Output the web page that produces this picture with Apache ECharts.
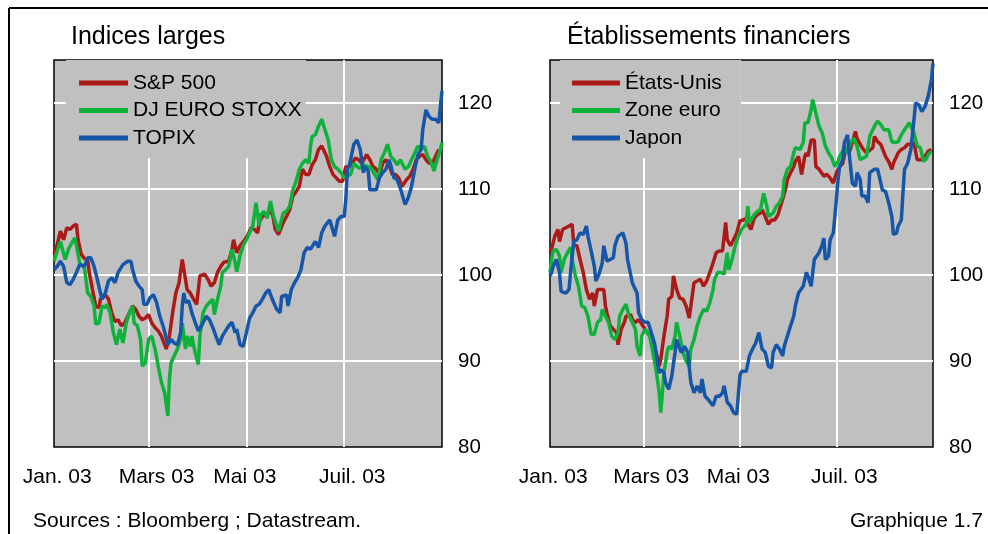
<!DOCTYPE html>
<html>
<head>
<meta charset="utf-8">
<script src="https://cdn.jsdelivr.net/npm/echarts@6/dist/echarts.min.js"></script>
<style>
  html, body { margin: 0; padding: 0; background: #fff; }
  #main { width: 988px; height: 534px; }
</style>
</head>
<body>
<div id="main"></div>
<script>
// x : jours depuis le 1er janvier 2003 ; y : indice base 100
var LAST_DAY = 242;

var monthStarts = [59, 120, 181];          // 1er mars, 1er mai, 1er juil. (lignes verticales)
var monthLabelDays = [2, 64, 119, 186];    // position des libellés
var monthLabels = ["Jan. 03", "Mars 03", "Mai 03", "Juil. 03"];
var yTicks = [80, 90, 100, 110, 120];

// Indices larges
var sp500 = [[0,102.4],[2,103.5],[4,105.1],[6,104.1],[8,105.5],[10,105.3],[12,105.7],[14,105.9],[15,104.1],[17,102.4],[19,101.9],[21,101.8],[22,100.3],[24,98.3],[26,96.4],[28,96.2],[29,97.2],[32,97.7],[34,97.2],[36,95.6],[38,94.6],[40,94.8],[42,94.1],[44,94.4],[47,95.6],[49,96.4],[51,96.0],[53,95.2],[55,94.8],[57,95.0],[59,95.4],[61,94.4],[63,93.9],[65,93.5],[67,92.9],[70,91.4],[71,91.2],[72,92.9],[74,95.6],[76,97.9],[78,99.1],[80,101.8],[82,99.5],[83,98.3],[85,97.9],[87,97.2],[89,96.6],[91,99.9],[94,100.1],[96,99.5],[98,98.7],[100,99.1],[102,100.3],[104,101.0],[106,101.5],[109,101.6],[111,103.0],[112,104.1],[114,102.6],[116,103.4],[119,104.1],[121,104.7],[123,105.5],[125,105.3],[127,104.9],[128,106.1],[130,106.8],[132,107.0],[134,107.2],[136,107.4],[138,105.3],[140,104.7],[143,106.1],[145,106.8],[147,107.6],[149,109.2],[151,109.7],[153,110.3],[155,112.3],[157,111.7],[159,111.7],[161,112.8],[163,113.4],[165,114.6],[167,115.0],[170,113.8],[172,112.6],[174,111.7],[176,111.3],[178,110.9],[180,110.9],[182,112.6],[184,112.6],[186,113.0],[188,113.6],[190,113.4],[192,113.0],[195,114.0],[197,113.4],[199,112.6],[201,112.3],[203,111.7],[205,113.0],[207,113.4],[209,112.8],[211,111.7],[213,111.7],[215,111.3],[217,110.3],[220,111.1],[222,111.5],[224,112.3],[226,113.4],[228,113.8],[230,114.0],[232,113.4],[234,113.0],[236,113.0],[238,113.8],[240,114.6]];

var euroStoxx = [[0,101.6],[2,102.8],[4,103.9],[5,104.1],[7,101.8],[9,103.0],[11,103.7],[13,104.3],[14,103.4],[16,101.4],[19,100.8],[21,97.9],[23,97.5],[25,96.4],[26,94.3],[28,94.4],[30,96.4],[32,96.2],[33,96.6],[35,95.6],[37,93.3],[39,91.9],[41,93.7],[43,92.1],[45,94.4],[47,95.6],[49,96.4],[50,94.4],[52,94.1],[54,92.5],[55,89.4],[57,89.8],[59,92.5],[61,92.9],[63,91.4],[65,89.4],[67,87.5],[69,86.3],[71,83.6],[72,87.9],[73,89.8],[75,90.6],[77,91.4],[79,92.5],[80,94.4],[82,91.4],[83,92.9],[85,91.7],[86,92.9],[88,91.0],[90,89.6],[91,92.9],[93,95.6],[95,96.4],[97,96.8],[99,97.2],[100,95.4],[102,97.2],[104,98.7],[105,100.3],[107,100.6],[109,101.0],[111,103.0],[113,101.4],[114,100.4],[116,102.2],[118,103.4],[120,104.1],[122,104.9],[124,105.7],[126,108.4],[128,105.7],[129,107.0],[131,107.4],[133,106.6],[135,108.6],[137,106.8],[139,105.7],[140,105.1],[143,107.2],[145,107.4],[147,108.0],[149,109.9],[151,110.9],[153,112.3],[155,113.0],[157,113.4],[159,113.0],[160,115.0],[161,116.1],[163,116.3],[165,117.3],[167,118.1],[169,116.9],[171,115.7],[173,113.4],[175,112.6],[177,112.3],[179,111.9],[181,111.3],[183,111.5],[185,111.7],[187,113.0],[189,112.6],[191,112.4],[193,112.8],[196,112.6],[198,112.4],[200,111.7],[202,111.1],[204,113.4],[206,114.2],[208,115.2],[210,113.8],[212,113.4],[214,112.8],[216,113.4],[219,112.3],[221,112.6],[223,113.4],[225,114.2],[227,115.0],[229,114.6],[231,115.0],[233,113.8],[235,113.2],[237,112.1],[239,113.4],[241,114.6],[242,115.4]];

var topix = [[0,100.6],[2,101.0],[4,101.6],[6,101.0],[8,99.1],[10,98.9],[12,99.5],[14,100.3],[16,101.2],[19,101.0],[21,102.0],[23,102.0],[25,101.0],[27,99.5],[29,97.9],[30,97.2],[32,97.9],[34,99.3],[36,99.7],[38,99.1],[40,100.3],[43,101.2],[46,101.6],[48,101.6],[49,100.6],[51,99.3],[53,98.7],[55,98.3],[56,96.6],[58,96.6],[60,97.4],[62,97.7],[64,96.8],[66,95.2],[68,94.1],[70,92.7],[71,91.9],[73,92.5],[75,92.1],[77,91.9],[79,93.3],[80,96.4],[81,97.9],[82,96.8],[84,97.0],[86,95.6],[88,94.5],[90,93.5],[92,94.1],[95,95.2],[97,94.8],[99,93.9],[101,92.9],[103,91.9],[105,92.9],[107,93.5],[109,94.1],[111,94.5],[113,93.3],[114,93.7],[116,91.9],[118,91.7],[120,93.3],[122,95.0],[124,95.6],[126,96.4],[128,96.6],[130,97.2],[132,97.9],[134,98.3],[135,97.7],[137,96.8],[139,96.0],[141,95.6],[142,97.5],[145,97.7],[146,96.4],[148,98.3],[150,99.1],[152,99.7],[154,100.6],[156,102.6],[158,103.2],[160,103.0],[163,103.9],[165,103.2],[167,104.9],[169,105.7],[172,106.4],[173,106.6],[175,104.5],[177,106.4],[179,106.8],[181,106.8],[182,108.8],[183,112.3],[184,112.6],[185,113.4],[187,115.2],[189,115.7],[191,114.6],[193,111.9],[194,112.6],[196,112.1],[197,109.9],[199,109.9],[201,109.9],[203,111.3],[205,111.9],[207,112.3],[209,113.4],[210,112.8],[212,111.3],[214,111.1],[216,110.1],[218,108.8],[219,108.2],[221,109.0],[223,110.3],[225,112.3],[227,114.0],[229,114.6],[230,116.9],[232,119.2],[234,118.4],[236,118.1],[238,118.1],[240,117.7],[241,119.6],[242,121.4]];

// Etablissements financiers
var etatsUnis = [[0,102.6],[1,103.0],[3,104.5],[5,105.3],[6,103.9],[8,105.3],[10,105.5],[12,105.7],[14,105.9],[15,103.5],[17,103.4],[19,101.8],[21,100.3],[22,100.3],[23,98.3],[25,97.2],[27,97.9],[28,96.4],[30,98.3],[32,98.3],[34,98.3],[35,96.4],[36,95.6],[38,94.1],[40,93.7],[42,93.3],[43,91.9],[45,93.7],[47,94.5],[48,95.2],[51,95.4],[52,94.8],[54,94.5],[56,94.8],[58,94.3],[60,93.7],[63,92.9],[65,92.1],[67,91.0],[69,89.4],[70,90.2],[72,92.9],[74,95.2],[75,97.2],[77,97.5],[78,99.9],[80,98.3],[82,97.3],[84,97.2],[86,96.4],[88,95.0],[89,96.4],[91,99.1],[93,99.3],[95,99.5],[97,98.7],[99,99.3],[101,100.3],[103,101.4],[105,102.6],[107,102.8],[109,102.8],[111,106.1],[112,104.1],[114,103.4],[116,104.1],[118,104.9],[120,106.3],[122,106.4],[124,106.6],[125,105.9],[127,105.3],[129,106.6],[131,107.0],[133,107.2],[134,107.6],[136,106.8],[138,105.9],[140,106.4],[142,106.4],[144,107.0],[145,107.6],[147,108.8],[149,110.1],[150,111.1],[152,111.9],[154,112.6],[155,113.2],[157,113.8],[159,111.7],[161,113.8],[162,114.2],[163,113.8],[165,115.7],[167,115.7],[168,112.6],[170,112.3],[173,111.5],[175,111.7],[177,111.3],[179,110.7],[181,111.9],[183,112.6],[185,113.0],[187,114.8],[189,114.2],[191,115.4],[193,116.7],[194,115.9],[196,115.2],[198,114.6],[200,114.2],[201,114.2],[204,114.8],[205,116.1],[207,115.5],[209,115.2],[212,113.8],[214,113.2],[216,112.3],[217,113.0],[219,113.8],[220,114.2],[222,114.6],[224,114.8],[226,115.2],[228,115.2],[230,115.4],[232,113.4],[234,113.4],[236,113.4],[237,113.8],[239,114.4],[241,114.6]];

var zoneEuro = [[0,100.3],[1,101.8],[2,102.8],[4,103.0],[6,102.2],[7,100.3],[9,101.8],[11,102.6],[13,103.2],[14,101.8],[16,99.9],[18,98.7],[20,96.4],[22,96.2],[24,95.2],[26,93.1],[28,93.1],[30,94.5],[32,94.8],[33,96.0],[35,95.2],[37,94.5],[39,92.9],[41,92.5],[43,93.3],[44,95.2],[46,96.0],[48,96.6],[50,95.2],[52,94.5],[54,93.7],[55,91.7],[57,90.6],[58,92.9],[60,93.7],[63,92.9],[65,91.0],[67,89.0],[69,86.3],[70,84.0],[72,88.6],[74,91.0],[75,91.7],[77,91.4],[79,92.9],[80,94.5],[82,92.9],[84,91.0],[86,90.0],[88,89.4],[89,91.4],[91,92.5],[93,94.1],[95,95.2],[97,96.0],[99,95.8],[101,96.8],[103,98.3],[104,99.5],[106,100.3],[108,100.3],[110,100.1],[112,102.6],[113,100.6],[115,101.8],[117,103.4],[119,104.5],[121,105.3],[124,105.9],[125,108.0],[126,106.1],[129,107.0],[131,107.4],[133,107.6],[135,109.5],[137,108.0],[138,106.8],[141,107.2],[143,108.0],[145,108.4],[147,109.2],[148,111.1],[150,112.3],[152,112.6],[154,114.2],[155,114.8],[158,114.6],[160,115.4],[161,117.7],[162,117.9],[163,117.7],[165,119.2],[166,120.4],[168,118.8],[170,117.3],[172,116.5],[174,115.0],[176,114.2],[178,113.6],[180,112.6],[182,113.2],[183,113.8],[185,114.4],[186,115.0],[188,114.2],[190,115.4],[192,115.9],[194,115.0],[196,113.4],[198,113.6],[200,113.8],[202,116.1],[205,117.3],[207,117.9],[209,117.5],[211,116.9],[212,116.7],[214,116.9],[216,115.5],[218,115.4],[220,115.5],[222,116.3],[224,116.9],[227,117.7],[228,117.7],[230,116.5],[232,115.0],[234,114.8],[236,113.2],[238,113.6],[239,114.0],[241,114.4]];

var japon = [[0,99.9],[1,100.3],[2,101.0],[4,101.8],[6,100.3],[7,98.1],[10,97.9],[12,98.3],[13,100.3],[15,103.9],[17,104.1],[19,104.9],[21,104.7],[23,105.7],[24,104.5],[26,102.8],[28,101.0],[29,99.3],[31,100.1],[33,101.4],[34,103.4],[36,101.6],[38,101.8],[40,102.0],[41,103.4],[43,104.5],[44,104.7],[46,104.9],[48,103.7],[49,101.8],[52,99.1],[53,98.7],[55,97.9],[56,95.6],[58,94.8],[60,94.5],[62,94.5],[64,93.3],[66,92.1],[67,91.0],[69,88.6],[70,89.0],[72,88.6],[73,87.5],[75,86.7],[77,88.3],[79,91.0],[80,92.5],[82,91.4],[83,91.0],[85,91.7],[87,91.0],[89,87.5],[91,86.3],[93,87.1],[95,86.3],[96,87.9],[98,85.9],[100,85.5],[103,84.8],[105,85.9],[107,85.9],[109,86.3],[110,87.1],[112,85.2],[114,84.8],[116,84.0],[118,83.8],[120,88.3],[121,88.8],[124,88.8],[126,90.6],[128,91.4],[130,92.1],[132,93.3],[134,91.4],[136,91.0],[138,89.4],[140,89.2],[141,91.0],[143,91.9],[145,91.4],[147,90.6],[148,91.7],[150,92.9],[152,94.1],[154,95.2],[155,96.4],[157,97.9],[160,98.7],[161,99.5],[162,100.3],[163,99.9],[165,98.7],[167,101.8],[170,102.6],[172,103.5],[173,104.3],[174,101.8],[176,102.2],[177,104.1],[179,104.9],[180,106.8],[182,111.1],[183,112.6],[185,113.4],[186,115.4],[188,116.3],[189,114.2],[191,110.7],[193,110.3],[194,111.9],[196,111.1],[197,109.2],[199,109.2],[201,108.4],[202,111.9],[205,112.3],[207,112.3],[208,112.3],[210,109.9],[212,109.7],[214,108.4],[216,106.8],[217,104.7],[219,104.9],[220,105.7],[222,106.4],[223,109.5],[224,112.3],[226,113.0],[228,114.6],[230,118.1],[231,120.0],[233,119.8],[235,119.0],[237,119.6],[239,120.8],[241,122.7],[242,124.6]];

var RED = "#ab1a17", GREEN = "#0db23a", BLUE = "#1656a8";
var FONT = "'Liberation Sans', Arial, sans-serif";

function xAxisFor(grid) {
  return {
    gridIndex: grid,
    type: "value",
    min: 0,
    max: LAST_DAY,
    axisLine: { show: false },
    axisTick: { show: false },
    axisLabel: {
      customValues: monthLabelDays,
      margin: 20,
      fontSize: 21,
      color: "#000",
      fontFamily: FONT,
      hideOverlap: false,
      formatter: function (v) {
        var i = monthLabelDays.indexOf(v);
        return i >= 0 ? monthLabels[i] : "";
      }
    },
    splitLine: { show: false }
  };
}

function yAxisFor(grid) {
  return {
    gridIndex: grid,
    type: "value",
    position: "right",
    min: 80,
    max: 125,
    interval: 10,
    axisLine: { show: false },
    axisTick: { show: false },
    axisLabel: {
      margin: 16,
      fontSize: 20.5,
      color: "#000",
      fontFamily: FONT,
      formatter: function (v) { return yTicks.indexOf(v) >= 0 ? String(v) : ""; }
    },
    splitLine: {
      show: true,
      showMinLine: false,
      showMaxLine: false,
      lineStyle: { color: "#fff", width: 2 }
    }
  };
}

function line(name, data, color, grid, withMonthLines) {
  var s = {
    name: name,
    type: "line",
    xAxisIndex: grid,
    yAxisIndex: grid,
    data: data,
    showSymbol: false,
    symbol: "none",
    lineStyle: { color: color, width: 3.5 },
    itemStyle: { color: color },
    emphasis: { disabled: true }
  };
  if (withMonthLines) {
    // lignes verticales blanches au début des mois (sous les courbes, sous la légende)
    s.markLine = {
      silent: true,
      z: 1,
      symbol: ["none", "none"],
      label: { show: false },
      lineStyle: { color: "#fff", width: 2, type: "solid" },
      emphasis: { disabled: true },
      data: monthStarts.map(function (d) { return { xAxis: d }; })
    };
  }
  return s;
}

var chart = echarts.init(document.getElementById("main"), null, { renderer: "canvas" });

var option = {
  animation: false,
  backgroundColor: "#fff",
  textStyle: { fontFamily: FONT },
  title: [
    { text: "Indices larges", left: 71, top: 25, padding: 0,
      textStyle: { fontSize: 25, fontWeight: "normal", color: "#000", fontFamily: FONT } },
    { text: "Établissements financiers", left: 567, top: 25, padding: 0,
      textStyle: { fontSize: 25, fontWeight: "normal", color: "#000", fontFamily: FONT } },
    { text: "Sources : Bloomberg ; Datastream.", left: 33, top: 511, padding: 0,
      textStyle: { fontSize: 21, fontWeight: "normal", color: "#000", fontFamily: FONT } },
    { text: "Graphique 1.7", right: 5, top: 511, padding: 0,
      textStyle: { fontSize: 21, fontWeight: "normal", color: "#000", fontFamily: FONT } }
  ],
  grid: [
    { left: 54, top: 60, width: 388, height: 387, show: true,
      backgroundColor: "#c0c0c0", borderColor: "#000", borderWidth: 1.5 },
    { left: 550, top: 60, width: 383, height: 387, show: true,
      backgroundColor: "#c0c0c0", borderColor: "#000", borderWidth: 1.5 }
  ],
  legend: [
    { orient: "vertical", left: 66, top: 60,
      data: ["S&P 500", "DJ EURO STOXX", "TOPIX"],
      backgroundColor: "#c0c0c0", padding: [12.5, 4, 9.5, 13],
      itemGap: 6.5, itemWidth: 49, itemHeight: 20,
      icon: "path://M0,0H49V5H0Z", selectedMode: false,
      textStyle: { fontSize: 21, lineHeight: 21, color: "#000", fontFamily: FONT } },
    { orient: "vertical", left: 560, top: 60,
      data: ["États-Unis", "Zone euro", "Japon"],
      backgroundColor: "#c0c0c0", padding: [12.5, 19, 9.5, 12],
      itemGap: 6.5, itemWidth: 48, itemHeight: 20,
      icon: "path://M0,0H48V5H0Z", selectedMode: false,
      textStyle: { fontSize: 21, lineHeight: 21, color: "#000", fontFamily: FONT } }
  ],
  xAxis: [xAxisFor(0), xAxisFor(1)],
  yAxis: [yAxisFor(0), yAxisFor(1)],
  series: [
    line("S&P 500", sp500, RED, 0, true),
    line("DJ EURO STOXX", euroStoxx, GREEN, 0),
    line("TOPIX", topix, BLUE, 0),
    line("États-Unis", etatsUnis, RED, 1, true),
    line("Zone euro", zoneEuro, GREEN, 1),
    line("Japon", japon, BLUE, 1)
  ],
  graphic: [
    { type: "line", shape: { x1: 9, y1: 8, x2: 988, y2: 8 }, style: { stroke: "#000", lineWidth: 2 }, silent: true },
    { type: "line", shape: { x1: 9, y1: 8, x2: 9, y2: 534 }, style: { stroke: "#000", lineWidth: 2 }, silent: true }
  ]
};

chart.setOption(option);
</script>
</body>
</html>
